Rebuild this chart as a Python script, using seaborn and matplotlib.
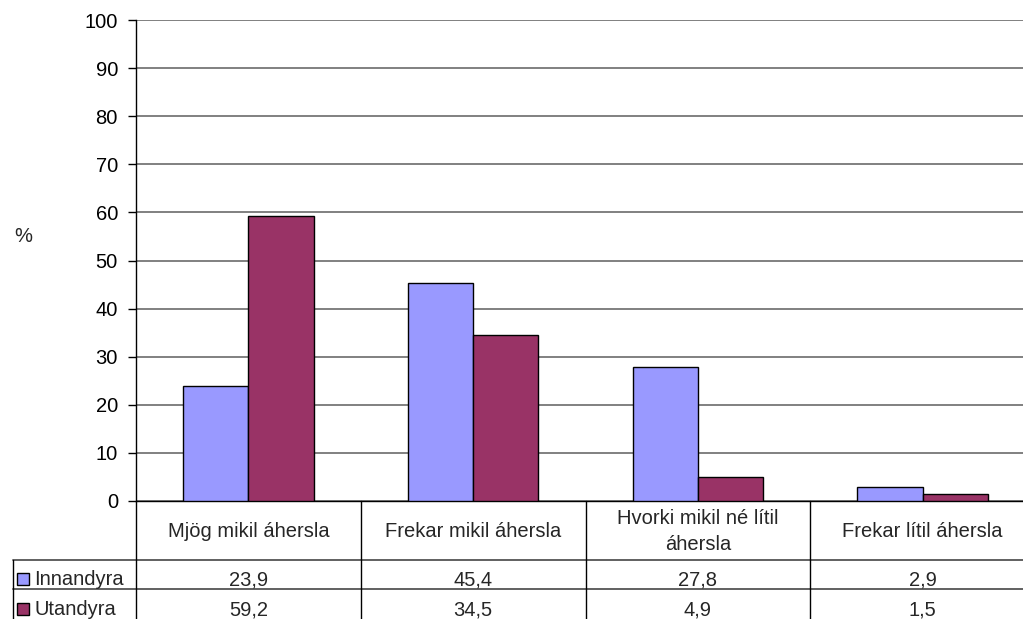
import matplotlib
matplotlib.use("Agg")
import matplotlib.pyplot as plt
import seaborn as sns
import pandas as pd
from matplotlib.lines import Line2D
from matplotlib.patches import Rectangle

categories = ["Mjög mikil áhersla", "Frekar mikil áhersla", "Hvorki mikil né lítil\náhersla", "Frekar lítil áhersla"]
series_names = ["Innandyra", "Utandyra"]
innandyra = [23.9, 45.4, 27.8, 2.9]
utandyra = [59.2, 34.5, 4.9, 1.5]
colors = ["#9999FF", "#993366"]
yticks = [0, 10, 20, 30, 40, 50, 60, 70, 80, 90, 100]

sns.set_theme(style="white")
plt.rcParams['font.family'] = ['Liberation Sans', 'DejaVu Sans']

FS = 14.5
W, H = 1023, 619
fig = plt.figure(figsize=(W / 100, H / 100), dpi=100)

def fx(x):
    return x / W

def fy(y):
    return 1 - y / H

L, R, T, B = 136, 1035, 20, 501
ax = fig.add_axes([fx(L), fy(B), fx(R) - fx(L), fy(T) - fy(B)])

df = pd.DataFrame({
    "cat": categories * 2,
    "series": [series_names[0]] * 4 + [series_names[1]] * 4,
    "val": innandyra + utandyra,
})
sns.barplot(data=df, x="cat", y="val", hue="series", palette=colors, width=0.58,
            saturation=1, edgecolor="black", linewidth=1, ax=ax, legend=False, zorder=3)

ax.set_xlim(-0.5, 3.5)
ax.set_ylim(0, 100)
ax.set_yticks(yticks)
ax.set_yticklabels([str(t) for t in yticks], fontsize=FS)
ax.set_xticks([])
ax.set_xlabel("")
ax.set_ylabel("")
ax.yaxis.grid(True, color="#808080", linewidth=1.4, zorder=0)
ax.set_axisbelow(True)
for s in ["top", "right"]:
    ax.spines[s].set_visible(False)
ax.spines["left"].set_color("black")
ax.spines["left"].set_linewidth(1)
ax.spines["bottom"].set_color("black")
ax.spines["bottom"].set_linewidth(1)
ax.tick_params(axis="y", which="both", left=True, length=6, width=1, color="black", pad=7, colors="black")

fig.text(fx(23), fy(237), "%", fontsize=FS, ha="center", va="center")

# data table
def hline(x0, x1, y, color="black", lw=1):
    fig.add_artist(Line2D([fx(x0), fx(x1)], [fy(y), fy(y)], color=color, lw=lw))

def vline(x, y0, y1, color="black", lw=1):
    fig.add_artist(Line2D([fx(x), fx(x)], [fy(y0), fy(y1)], color=color, lw=lw))

colw = (R - L) / len(categories)
col_edges = [L + i * colw for i in range(len(categories) + 1)]

hline(13, R, 560, color="#606060", lw=1.4)
hline(13, R, 589, color="#606060", lw=1.4)
for x in col_edges[:-1]:
    vline(x, 501, 625)
vline(13, 560, 625)

for i, c in enumerate(categories):
    cx = fx((col_edges[i] + col_edges[i + 1]) / 2)
    lines = c.split("\n")
    n = len(lines)
    for k, ln in enumerate(lines):
        base = 537 - 12.5 * (n - 1) + 25 * k
        fig.text(cx, fy(base), ln, fontsize=FS, ha="center", va="baseline")
    fig.text(cx, fy(585), f"{innandyra[i]:.1f}".replace(".", ","),
             fontsize=FS, ha="center", va="baseline")
    fig.text(cx, fy(615), f"{utandyra[i]:.1f}".replace(".", ","),
             fontsize=FS, ha="center", va="baseline")

for j, (name, base) in enumerate(zip(series_names, [585, 615])):
    fig.add_artist(Rectangle((fx(17), fy(base)), fx(12), fy(0) - fy(12),
                             facecolor=colors[j], edgecolor="black", lw=1))
    fig.text(fx(34), fy(base), name, fontsize=FS, ha="left", va="baseline")

fig.savefig("out.png", dpi=100)
